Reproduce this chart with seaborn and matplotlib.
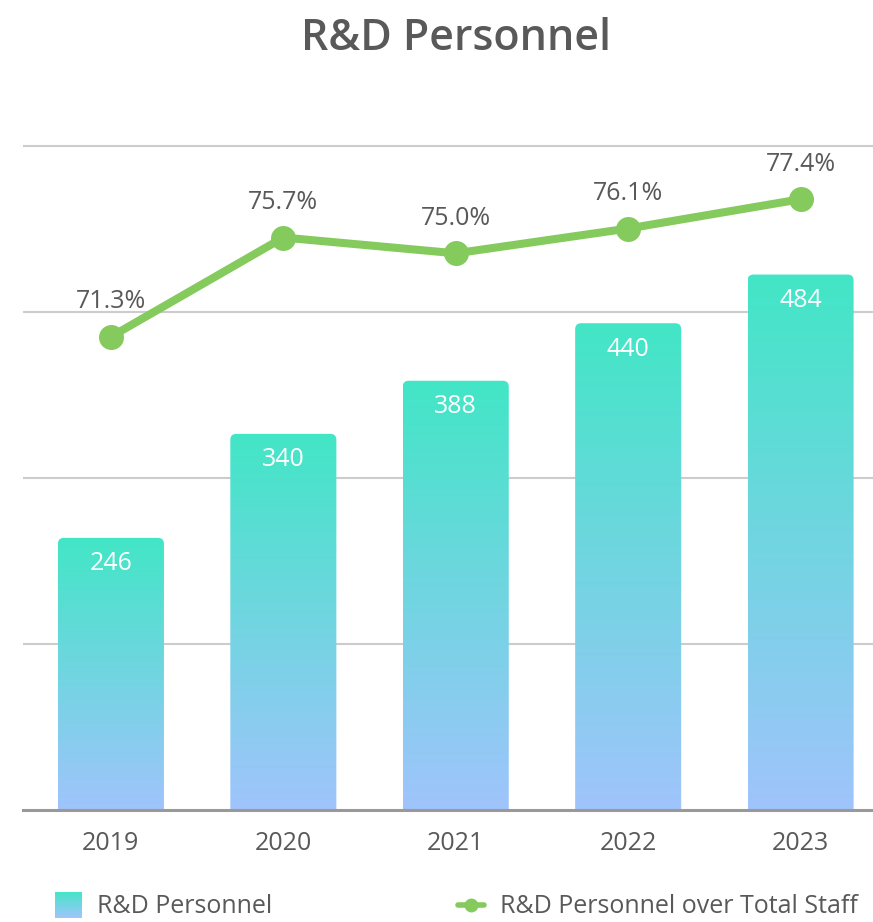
import numpy as np
import matplotlib
matplotlib.use("Agg")
import matplotlib.pyplot as plt
import seaborn as sns
import pandas as pd
from matplotlib.patches import FancyBboxPatch
from matplotlib.colors import LinearSegmentedColormap
from matplotlib.lines import Line2D

years = ["2019", "2020", "2021", "2022", "2023"]
personnel = [246, 340, 388, 440, 484]
share = [71.3, 75.7, 75.0, 76.1, 77.4]

TOP = "#42E6C6"
BOTTOM = "#A0C4FC"
GREEN = "#85CA5D"
TXT = "#595959"
FS = 18

sns.set_theme(style="white")
plt.rcParams["font.family"] = ["Open Sans", "DejaVu Sans"]

W, H = 873, 922
fig = plt.figure(figsize=(W / 100, H / 100), dpi=100)
# axes: left 23px, right edge, bottom at y=810, top at y=144
ax = fig.add_axes([23 / W, (H - 810) / H, (W - 23) / W, (810 - 144) / H])

df = pd.DataFrame({"year": years, "personnel": personnel})
sns.barplot(data=df, x="year", y="personnel", ax=ax, width=0.615,
            color=TOP, saturation=1)

ax.set_xlim(-0.51, 4.42)
ax.set_ylim(0, 602)
ax.set_yticks([150, 300, 450, 600])
ax.yaxis.grid(True, color="#cccccc", linewidth=1.5)
ax.set_axisbelow(True)
ax.set_yticklabels([])
ax.tick_params(axis="y", length=0)
ax.tick_params(axis="x", length=0, pad=15, labelsize=FS, labelcolor=TXT)
ax.set_xlabel("")
ax.set_ylabel("")
for s in ["top", "left", "right"]:
    ax.spines[s].set_visible(False)
ax.spines["bottom"].set_color("#999999")
ax.spines["bottom"].set_linewidth(2.2)
ax.spines["bottom"].set_zorder(5)

cmap = LinearSegmentedColormap.from_list("g", [BOTTOM, TOP])
grad = np.linspace(0, 1, 256).reshape(-1, 1)

# px per data unit
px_x = (W - 23) / (4.42 + 0.51)
px_y = (810 - 144) / 602
aspect = px_x / px_y
r = 6 / px_x

for p, v in zip(list(ax.patches), personnel):
    x0, w = p.get_x(), p.get_width()
    p.set_visible(False)
    box = FancyBboxPatch((x0, -20), w, v + 20,
                         boxstyle=f"round,pad=0,rounding_size={r}",
                         mutation_aspect=aspect, transform=ax.transData,
                         facecolor="none", edgecolor="none")
    ax.add_patch(box)
    im = ax.imshow(grad, cmap=cmap, origin="lower", aspect="auto",
                   extent=[x0, x0 + w, 0, v], zorder=2)
    im.set_clip_path(box)
    ax.text(x0 + w / 2, v - 23.5, str(v), ha="center", va="center",
            color="white", fontsize=FS, zorder=4)

ax.set_xlim(-0.51, 4.42)
ax.set_ylim(0, 602)

ax2 = ax.twinx()
sns.lineplot(x=range(len(years)), y=share, ax=ax2, color=GREEN,
             linewidth=5.8, marker="o", markersize=18, markeredgewidth=0,
             zorder=6)
ax2.set_ylim(50.3, 79.85)
ax2.axis("off")
for i, v in enumerate(share):
    ax2.text(i, v + 1.55, f"{v:.1f}%", ha="center", va="center",
             fontsize=FS, color=TXT, clip_on=False)

fig.text(456 / W, 1 - 38 / H, "R&D Personnel", ha="center", va="center",
         fontsize=31, color=TXT, fontweight="semibold")

# legend
lax = fig.add_axes([55 / W, 1 - 918 / H, 27 / W, 26 / H])
lax.imshow(grad[::-1], cmap=cmap, aspect="auto", extent=[0, 1, 0, 1])
lax.axis("off")
fig.text(97 / W, 1 - 906 / H, "R&D Personnel", ha="left", va="center",
         fontsize=FS, color=TXT)
fig.add_artist(Line2D([458 / W, 484 / W], [1 - 905 / H, 1 - 905 / H],
                      transform=fig.transFigure, color=GREEN, linewidth=4))
fig.add_artist(Line2D([471 / W], [1 - 905 / H], transform=fig.transFigure,
                      color=GREEN, marker="o", markersize=10,
                      markeredgewidth=0))
fig.text(500 / W, 1 - 906 / H, "R&D Personnel over Total Staff", ha="left",
         va="center", fontsize=FS, color=TXT)

fig.savefig("out.png", dpi=100)
